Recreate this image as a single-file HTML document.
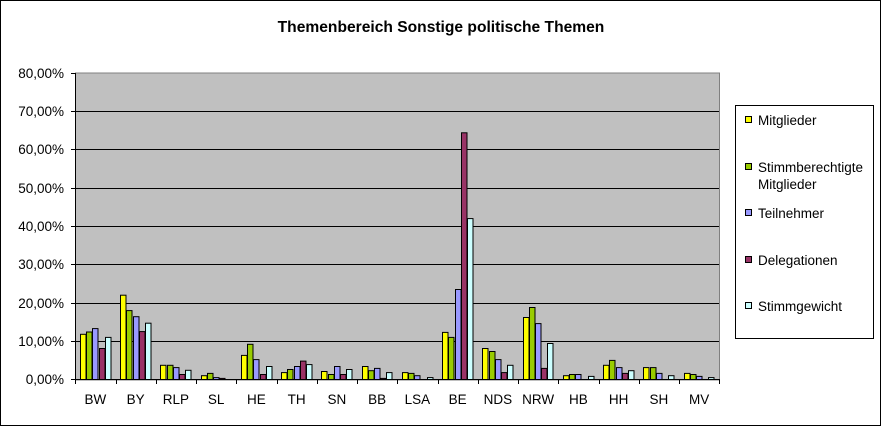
<!DOCTYPE html>
<html><head><meta charset="utf-8"><style>
html,body{margin:0;padding:0;background:#fff}
svg{display:block;font-family:"Liberation Sans",Arial,sans-serif}
</style></head><body>
<svg id="s" width="881" height="426" viewBox="0 0 881 426" xmlns="http://www.w3.org/2000/svg">
<rect x="0.5" y="0.5" width="880" height="425" fill="#fff" stroke="#000"/>
<text x="441" y="32" text-anchor="middle" font-size="15.6" font-weight="bold">Themenbereich Sonstige politische Themen</text>
<rect x="75.5" y="73" width="644" height="307" fill="#c0c0c0" stroke="#808080"/>
<g stroke="#000" stroke-width="1">
<line x1="75" y1="111.5" x2="719" y2="111.5"/><line x1="75" y1="149.5" x2="719" y2="149.5"/>
<line x1="75" y1="188.5" x2="719" y2="188.5"/><line x1="75" y1="226.5" x2="719" y2="226.5"/>
<line x1="75" y1="264.5" x2="719" y2="264.5"/><line x1="75" y1="303.5" x2="719" y2="303.5"/>
<line x1="75" y1="341.5" x2="719" y2="341.5"/>
<line x1="71" y1="73.5" x2="75" y2="73.5"/><line x1="71" y1="111.5" x2="75" y2="111.5"/><line x1="71" y1="149.5" x2="75" y2="149.5"/><line x1="71" y1="188.5" x2="75" y2="188.5"/><line x1="71" y1="226.5" x2="75" y2="226.5"/><line x1="71" y1="264.5" x2="75" y2="264.5"/><line x1="71" y1="303.5" x2="75" y2="303.5"/><line x1="71" y1="341.5" x2="75" y2="341.5"/><line x1="71" y1="379.5" x2="75" y2="379.5"/>
</g>
<g id="bars" stroke="#000" stroke-width="1"></g>
<line x1="75.5" y1="73" x2="75.5" y2="380" stroke="#000"/>
<line x1="75" y1="379.5" x2="720" y2="379.5" stroke="#000"/>
<g id="xt" stroke="#000"></g>
<g font-size="13.5" text-anchor="end">
<text x="64" y="78">80,00%</text><text x="64" y="116">70,00%</text><text x="64" y="154">60,00%</text><text x="64" y="193">50,00%</text><text x="64" y="231">40,00%</text><text x="64" y="269">30,00%</text><text x="64" y="308">20,00%</text><text x="64" y="346">10,00%</text><text x="64" y="384">0,00%</text>
</g>
<g font-size="13.5" text-anchor="middle">
<text x="95.4" y="404">BW</text><text x="135.6" y="404">BY</text><text x="175.9" y="404">RLP</text><text x="216.1" y="404">SL</text><text x="256.4" y="404">HE</text><text x="296.6" y="404">TH</text><text x="336.9" y="404">SN</text><text x="377.1" y="404">BB</text><text x="417.4" y="404">LSA</text><text x="457.6" y="404">BE</text><text x="497.9" y="404">NDS</text><text x="538.1" y="404">NRW</text><text x="578.4" y="404">HB</text><text x="618.6" y="404">HH</text><text x="658.9" y="404">SH</text><text x="699.1" y="404">MV</text>
</g>
<rect x="735.5" y="105.5" width="138" height="233" fill="#fff" stroke="#000"/>
<g stroke="#000">
<rect x="745.5" y="116.5" width="6" height="6" fill="#ffff00"/>
<rect x="745.5" y="163.5" width="6" height="6" fill="#99cc00"/>
<rect x="745.5" y="209.5" width="6" height="6" fill="#9999ff"/>
<rect x="745.5" y="256.5" width="6" height="6" fill="#993366"/>
<rect x="745.5" y="302.5" width="6" height="6" fill="#ccffff"/>
</g>
<g font-size="13.5">
<text x="758" y="125">Mitglieder</text>
<text x="758" y="172">Stimmberechtigte</text>
<text x="758" y="189">Mitglieder</text>
<text x="758" y="218">Teilnehmer</text>
<text x="758" y="265">Delegationen</text>
<text x="758" y="311">Stimmgewicht</text>
</g>
</svg>
<script>
var d=[[11.8,12.4,13.3,8.1,11.0],[22.0,18.0,16.4,12.5,14.7],[3.7,3.7,3.1,1.3,2.4],[1.0,1.6,0.5,0.3,0],[6.3,9.2,5.2,1.3,3.4],[1.8,2.6,3.4,4.8,3.9],[2.1,1.3,3.4,1.3,2.6],[3.4,2.3,2.9,0.3,1.8],[1.8,1.6,1.0,0,0.5],[12.3,11.0,23.5,64.4,42.0],[8.1,7.3,5.2,1.8,3.7],[16.2,18.8,14.6,2.9,9.4],[1.0,1.3,1.3,0,0.8],[3.7,5.0,3.1,1.6,2.3],[3.1,3.1,1.6,0,1.0],[1.6,1.3,0.8,0,0.5]];
var c=["#ffff00","#99cc00","#9999ff","#993366","#ccffff"];
var g=document.getElementById("bars"),t=document.getElementById("xt"),ns="http://www.w3.org/2000/svg";
var L=75.3,W=40.25,bw=6.2;
for(var i=0;i<16;i++){for(var j=0;j<5;j++){var v=d[i][j];if(v<=0)continue;var h=v*3.83;var r=document.createElementNS(ns,"rect");
var x=Math.round(L+i*W+4.6+j*bw)+0.5;r.setAttribute("x",x);r.setAttribute("y",(379.5-h).toFixed(1));r.setAttribute("width",5.5);r.setAttribute("height",h.toFixed(1));r.setAttribute("fill",c[j]);g.appendChild(r);}
var l=document.createElementNS(ns,"line");var tx=Math.round(L+i*W)+0.5;l.setAttribute("x1",tx);l.setAttribute("x2",tx);l.setAttribute("y1",380);l.setAttribute("y2",384);t.appendChild(l);}
var l2=document.createElementNS(ns,"line");l2.setAttribute("x1",719.5);l2.setAttribute("x2",719.5);l2.setAttribute("y1",380);l2.setAttribute("y2",384);t.appendChild(l2);
</script>
</body></html>
